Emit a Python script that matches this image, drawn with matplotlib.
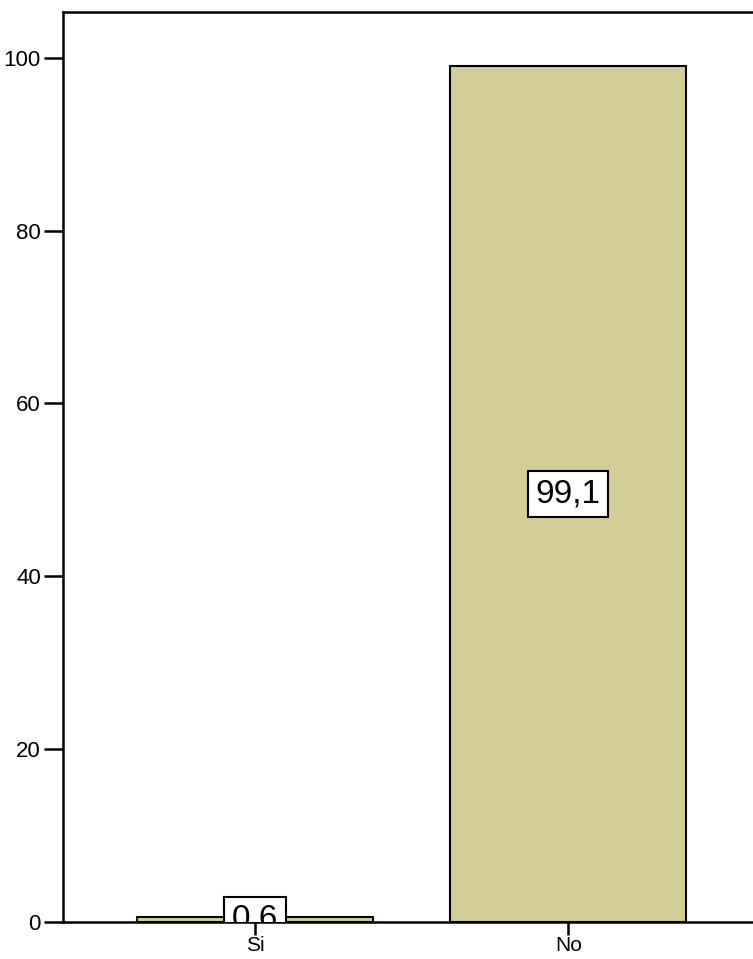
import matplotlib.pyplot as plt

categories = ['Si', 'No']
percentages = [0.6, 99.1]
value_labels = ['0,6', '99,1']

plt.rcParams['font.family'] = ['Liberation Sans', 'DejaVu Sans']

fig = plt.figure(figsize=(7.53, 9.59), dpi=100)
ax = fig.add_axes([0.0837, 0.0386, 0.9163, 0.9489])

pos = list(range(len(categories)))
ax.bar(pos, percentages, width=0.754, color='#d3ce98', edgecolor='black', linewidth=1.5, zorder=2)

# value boxes sit at the middle of each bar
for x, v, lab in zip(pos, percentages, value_labels):
    ax.text(x, v / 2, lab, ha='center', va='center', fontsize=24, clip_on=True, zorder=3,
            bbox=dict(boxstyle='square,pad=0.22', facecolor='white', edgecolor='black', linewidth=1.5))

ax.set_xlim(-0.613, 1.59)
ax.set_ylim(0, 105.3)
ax.set_xticks(pos)
ax.set_xticklabels(categories)
ax.set_yticks([0, 20, 40, 60, 80, 100])

for side in ['left', 'top', 'bottom']:
    ax.spines[side].set_linewidth(1.8)
ax.spines['right'].set_visible(False)
ax.tick_params(axis='y', length=14, width=1.8, pad=2, labelsize=16)
ax.tick_params(axis='x', length=9, width=1.8, pad=1, labelsize=15)

fig.savefig('out.png', dpi=100)
